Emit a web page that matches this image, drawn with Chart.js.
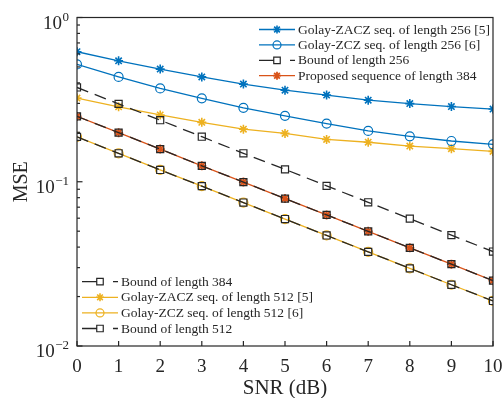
<!DOCTYPE html>
<html>
<head>
<meta charset="utf-8">
<script src="https://cdn.jsdelivr.net/npm/chart.js@4.4.0/dist/chart.umd.min.js"></script>
<style>
  html, body { margin: 0; padding: 0; background: #fff; }
  #mse-chart { display: block; }
</style>
</head>
<body>
<canvas id="mse-chart" width="504" height="398"></canvas>
<script>
// SNR axis (dB)
var snr = [0, 1, 2, 3, 4, 5, 6, 7, 8, 9, 10];

// MSE values
var zacz256 = [0.619, 0.545, 0.485, 0.435, 0.393, 0.361, 0.337, 0.314, 0.299, 0.287, 0.277];
var zcz256 = [0.518, 0.435, 0.370, 0.322, 0.282, 0.252, 0.226, 0.204, 0.189, 0.177, 0.169];
var bound256 = [0.375, 0.298, 0.237, 0.188, 0.149, 0.119, 0.0944, 0.075, 0.0596, 0.0473, 0.0376];
var proposed384 = [0.250, 0.199, 0.158, 0.125, 0.0995, 0.079, 0.0628, 0.0499, 0.0396, 0.0315, 0.025];
var bound384 = [0.250, 0.199, 0.158, 0.125, 0.0995, 0.079, 0.0628, 0.0499, 0.0396, 0.0315, 0.025];
var zacz512 = [0.323, 0.286, 0.255, 0.230, 0.209, 0.197, 0.181, 0.174, 0.165, 0.159, 0.153];
var zcz512 = [0.1875, 0.149, 0.118, 0.094, 0.0747, 0.0593, 0.0471, 0.0374, 0.0297, 0.0236, 0.0188];
var bound512 = [0.1875, 0.149, 0.118, 0.094, 0.0747, 0.0593, 0.0471, 0.0374, 0.0297, 0.0236, 0.0188];

var xTicks = [0, 1, 2, 3, 4, 5, 6, 7, 8, 9, 10];
var yTicks = [1, 0.1, 0.01];
var yTickExp = ['0', '\u22121', '\u22122'];

var BLUE = '#0072BD', RED = '#D95319', YELLOW = '#EDB120', BLACK = '#262626';
var SERIF = '"Liberation Serif", "Times New Roman", serif';

function pts(arr) {
  return snr.map(function(x, i) { return { x: x, y: arr[i] }; });
}

function series(label, arr, color, style, opts) {
  var ds = {
    label: label,
    data: pts(arr),
    borderColor: color,
    backgroundColor: 'rgba(0,0,0,0)',
    borderWidth: 1.3,
    pointStyle: style,
    pointRadius: style === 'rect' ? 5 : 4.5,
    pointBorderWidth: style === 'star' ? 1.6 : 1.2,
    pointBorderColor: color,
    pointBackgroundColor: 'rgba(0,0,0,0)',
    pointHoverRadius: 0,
    tension: 0,
    order: 1
  };
  for (var k in (opts || {})) ds[k] = opts[k];
  return ds;
}

var datasets = [
  series('Golay-ZACZ seq. of length 256 [5]', zacz256, BLUE, 'star'),
  series('Golay-ZCZ seq. of length 256 [6]', zcz256, BLUE, 'circle'),
  series('Bound of length 256', bound256, BLACK, 'rect', { borderDash: [12, 7], order: 0 }),
  series('Proposed sequence of length 384', proposed384, RED, 'star', { pointBorderWidth: 1.8 }),
  series('Bound of length 384', bound384, BLACK, 'rect', { borderDash: [12, 7], order: 0 }),
  series('Golay-ZACZ seq. of length 512 [5]', zacz512, YELLOW, 'star'),
  series('Golay-ZCZ seq. of length 512 [6]', zcz512, YELLOW, 'circle'),
  series('Bound of length 512', bound512, BLACK, 'rect', { borderDash: [12, 7], order: 0 })
];

// legend groups: [dataset index, ...], sample start x, first row y, row step
var legendGroups = [
  { items: [0, 1, 2, 3], x: 259, y: 29.5, step: 15.4 },
  { items: [4, 5, 6, 7], x: 82, y: 281.7, step: 15.6 }
];

function drawMarker(ctx, style, color, x, y, r, lw) {
  ctx.save();
  ctx.strokeStyle = color;
  ctx.lineWidth = lw;
  ctx.setLineDash([]);
  ctx.beginPath();
  if (style === 'rect') {
    var s = r * Math.SQRT1_2;
    ctx.rect(x - s, y - s, 2 * s, 2 * s);
  } else if (style === 'circle') {
    ctx.arc(x, y, r, 0, Math.PI * 2);
  } else {
    for (var a = 0; a < 4; a++) {
      var ang = a * Math.PI / 4;
      ctx.moveTo(x - Math.cos(ang) * r, y - Math.sin(ang) * r);
      ctx.lineTo(x + Math.cos(ang) * r, y + Math.sin(ang) * r);
    }
  }
  ctx.stroke();
  ctx.restore();
}

var framePlugin = {
  id: 'frame',
  afterDraw: function(chart) {
    var ctx = chart.ctx, a = chart.chartArea;
    var xs = chart.scales.x, ys = chart.scales.y;
    ctx.save();

    // box
    ctx.strokeStyle = BLACK;
    ctx.lineWidth = 1.2;
    ctx.strokeRect(a.left, a.top, a.right - a.left, a.bottom - a.top);

    // x ticks + labels
    ctx.fillStyle = BLACK;
    ctx.font = '19px ' + SERIF;
    ctx.textAlign = 'center';
    ctx.textBaseline = 'alphabetic';
    xTicks.forEach(function(v) {
      var px = xs.getPixelForValue(v);
      ctx.beginPath();
      ctx.moveTo(px, a.bottom);
      ctx.lineTo(px, a.bottom - 5);
      ctx.stroke();
      ctx.fillText(String(v), px, a.bottom + 25.5);
    });

    // y minor ticks
    for (var d = 0.01; d < 1; d *= 10) {
      for (var m = 2; m <= 9; m++) {
        var py = ys.getPixelForValue(d * m);
        ctx.beginPath();
        ctx.moveTo(a.left, py);
        ctx.lineTo(a.left + 3, py);
        ctx.stroke();
      }
    }

    // y major ticks + labels 10^n
    yTicks.forEach(function(v, i) {
      var py = ys.getPixelForValue(v);
      ctx.beginPath();
      ctx.moveTo(a.left, py);
      ctx.lineTo(a.left + 5.5, py);
      ctx.stroke();
      ctx.textAlign = 'right';
      ctx.font = '13px ' + SERIF;
      var supW = ctx.measureText(yTickExp[i]).width;
      ctx.fillText(yTickExp[i], 69, py + 3);
      ctx.font = '19px ' + SERIF;
      ctx.fillText('10', 69 - supW - 0.5, py + 11);
    });

    // axis titles
    ctx.font = '21px ' + SERIF;
    ctx.textAlign = 'center';
    ctx.fillText('SNR (dB)', (a.left + a.right) / 2, 394);
    ctx.save();
    ctx.translate(26.5, (a.top + a.bottom) / 2);
    ctx.rotate(-Math.PI / 2);
    ctx.font = '20px ' + SERIF;
    ctx.fillText('MSE', 0, 0);
    ctx.restore();

    // legends
    ctx.font = '13.5px ' + SERIF;
    ctx.textAlign = 'left';
    ctx.textBaseline = 'middle';
    legendGroups.forEach(function(g) {
      g.items.forEach(function(idx, row) {
        var ds = chart.data.datasets[idx];
        var y = g.y + row * g.step;
        var s = g.x;
        ctx.strokeStyle = ds.borderColor;
        ctx.lineWidth = 1.3;
        ctx.beginPath();
        if (ds.borderDash) {
          ctx.moveTo(s, y); ctx.lineTo(s + 15, y);
          ctx.moveTo(s + 31, y); ctx.lineTo(s + 36, y);
        } else {
          ctx.moveTo(s, y); ctx.lineTo(s + 36, y);
        }
        ctx.stroke();
        drawMarker(ctx, ds.pointStyle, ds.borderColor, s + 18, y, ds.pointStyle === 'rect' ? 4.6 : 4, ds.pointBorderWidth);
        ctx.fillStyle = BLACK;
        ctx.fillText(ds.label, s + 39, y + 0.5);
      });
    });

    ctx.restore();
  }
};

new Chart(document.getElementById('mse-chart'), {
  type: 'line',
  data: { datasets: datasets },
  options: {
    responsive: false,
    animation: false,
    devicePixelRatio: 1,
    layout: { padding: { left: 77, right: 11, top: 17.5, bottom: 52 } },
    scales: {
      x: { type: 'linear', min: 0, max: 10, display: false },
      y: { type: 'logarithmic', min: 0.01, max: 1, display: false }
    },
    plugins: {
      legend: { display: false },
      tooltip: { enabled: false }
    }
  },
  plugins: [framePlugin]
});
</script>
</body>
</html>
